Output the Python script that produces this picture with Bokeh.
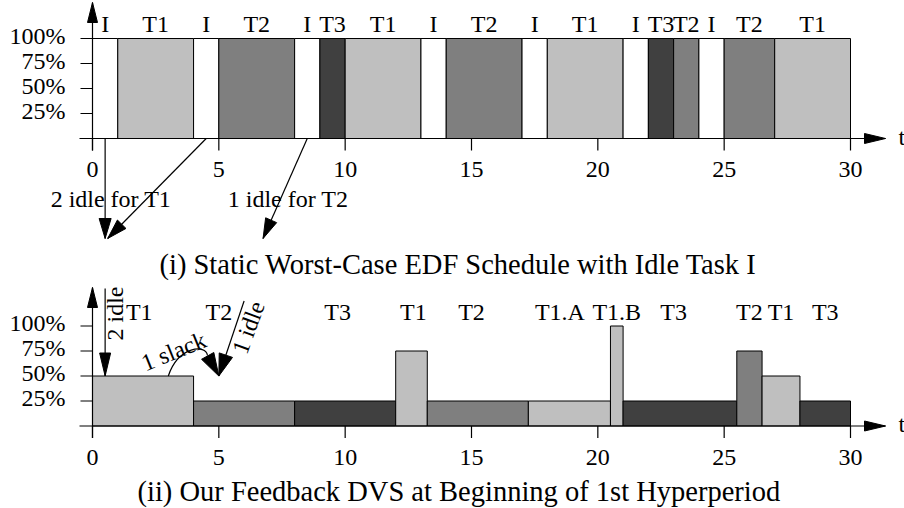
import math
from bokeh.plotting import figure
from bokeh.layouts import column
from bokeh.models import Range1d, ColumnDataSource
from bokeh.embed import file_html
from bokeh.resources import INLINE
from bokeh.core.properties import value

# ---------------- data ----------------
top_tasks = ["I", "T1", "I", "T2", "I", "T3", "T1", "I", "T2", "I", "T1", "I", "T3", "T2", "I", "T2", "T1"]
top_starts = [0, 1, 4, 5, 8, 9, 10, 13, 14, 17, 18, 21, 22, 23, 24, 25, 27]
top_ends = [1, 4, 5, 8, 9, 10, 13, 14, 17, 18, 21, 22, 23, 24, 25, 27, 30]
top_speed = [100, 100, 100, 100, 100, 100, 100, 100, 100, 100, 100, 100, 100, 100, 100, 100, 100]

bot_tasks = ["T1", "T2", "T3", "T1", "T2", "T1", "T1", "T3", "T2", "T1", "T3"]
bot_labels = ["T1", "T2", "T3", "T1", "T2", "T1.A", "T1.B", "T3", "T2", "T1", "T3"]
bot_starts = [0, 4, 8, 12, 13.25, 17.25, 20.5, 21, 25.5, 26.5, 28]
bot_ends = [4, 8, 12, 13.25, 17.25, 20.5, 21, 25.5, 26.5, 28, 30]
bot_speed = [50, 25, 25, 75, 25, 25, 100, 25, 75, 50, 25]
bot_label_x = [1.85, 5, 9.7, 12.7, 15, 18.5, 20.75, 23, 26, 27.25, 29]

x_ticks = [0, 5, 10, 15, 20, 25, 30]
x_tick_labels = ["0", "5", "10", "15", "20", "25", "30"]
y_ticks = [25, 50, 75, 100]
y_tick_labels = ["25%", "50%", "75%", "100%"]

task_colors = {"I": "#ffffff", "T1": "#bfbfbf", "T2": "#7f7f7f", "T3": "#404040"}

title_top = "(i) Static Worst-Case EDF Schedule with Idle Task I"
title_bot = "(ii) Our Feedback DVS at Beginning of 1st Hyperperiod"

# ---------------- geometry ----------------
W = 904
H_TOP = 284
H_BOT = 508 - H_TOP
PXU = 758.0 / 30.0      # pixels per time unit
X0 = 92.0               # pixel of t = 0
PYU = 1.0               # pixels per percent
FONT = value("Liberation Serif")
FS = "24px"
FS_T = "28.5px"
BF = 9    # baseline correction (px)
MF = 3


def make_fig(h, ybot, ytop):
    p = figure(width=W, height=h,
               x_range=Range1d(-X0 / PXU, (W - X0) / PXU),
               y_range=Range1d(ybot, ytop),
               output_backend="svg", toolbar_location=None,
               x_axis_location=None, y_axis_location=None,
               min_border=0, outline_line_color=None,
               background_fill_color="white", border_fill_color="white")
    p.xgrid.visible = False
    p.ygrid.visible = False
    return p


def head(p, fx, fy, tx, ty, L=20, Wd=11):
    dx = (tx - fx) * PXU
    dy = (ty - fy) * PYU
    n = math.hypot(dx, dy)
    ux, uy = dx / n, dy / n
    bx, by = tx * PXU - ux * L, ty * PYU - uy * L
    nx, ny = -uy, ux
    xs = [tx, (bx + nx * Wd / 2) / PXU, (bx - nx * Wd / 2) / PXU]
    ys = [ty, (by + ny * Wd / 2) / PYU, (by - ny * Wd / 2) / PYU]
    p.patch(xs, ys, fill_color="black", line_color="black", line_width=1)


def arrow(p, fx, fy, tx, ty, L=20, Wd=11):
    p.line([fx, tx], [fy, ty], line_color="black", line_width=1.2)
    head(p, fx, fy, tx, ty, L, Wd)


def axes(p):
    # x axis with arrow
    x_tip = (885 - X0) / PXU
    arrow(p, -13 / PXU, 0, x_tip, 0, L=21, Wd=10)
    p.text(x=[(898 - X0) / PXU], y=[-7 + BF], text=["t"], text_font=FONT,
           text_font_size=FS, text_align="left", text_baseline="alphabetic")
    # x ticks
    p.segment(x0=x_ticks, y0=[0] * len(x_ticks), x1=x_ticks, y1=[-12] * len(x_ticks),
              line_color="black", line_width=1.2)
    p.text(x=x_ticks, y=[-40 + BF] * len(x_ticks), text=x_tick_labels, text_font=FONT,
           text_font_size=FS, text_align="center", text_baseline="alphabetic")
    # y ticks
    p.segment(x0=[-12 / PXU] * len(y_ticks), y0=y_ticks, x1=[0] * len(y_ticks), y1=y_ticks,
              line_color="black", line_width=1.2)
    p.text(x=[-27 / PXU] * len(y_ticks), y=[v + MF for v in y_ticks], text=y_tick_labels,
           text_font=FONT, text_font_size=FS, text_align="right", text_baseline="middle")


# ---------------- top chart ----------------
top = make_fig(H_TOP, 138 - H_TOP, 138)
src_t = ColumnDataSource(dict(left=top_starts, right=top_ends, top=top_speed,
                              bottom=[0] * len(top_starts),
                              color=[task_colors[t] for t in top_tasks],
                              mid=[(a + b) / 2 for a, b in zip(top_starts, top_ends)],
                              lab=top_tasks))
top.quad(left="left", right="right", top="top", bottom="bottom", source=src_t,
         fill_color="color", line_color="black", line_width=1)
top.text(x="mid", y=106 + BF, text="lab", source=src_t, text_font=FONT, text_font_size=FS,
         text_align="center", text_baseline="alphabetic")
axes(top)
arrow(top, 0, -12, 0, 136, L=20, Wd=10)
# idle arrows
arrow(top, 0.5, 0, 0.5, -100, L=20, Wd=12)
arrow(top, 4.5, 0, 0.6, -100, L=20, Wd=12)
arrow(top, 8.5, 0, 6.75, -100, L=20, Wd=12)
top.text(x=[0.73, 7.74], y=[-69 + BF, -69 + BF], text=["2 idle for T1", "1 idle for T2"],
         text_font=FONT, text_font_size=FS, text_align="center", text_baseline="alphabetic")
top.text(x=[14.47], y=[-135 + BF], text=[title_top], text_font=FONT, text_font_size=FS_T,
         text_align="center", text_baseline="alphabetic")

# ---------------- bottom chart ----------------
BASE_B = 425.5 - H_TOP
bot = make_fig(H_BOT, BASE_B - H_BOT, BASE_B)
src_b = ColumnDataSource(dict(left=bot_starts, right=bot_ends, top=bot_speed,
                              bottom=[0] * len(bot_starts),
                              color=[task_colors[t] for t in bot_tasks]))
bot.quad(left="left", right="right", top="top", bottom="bottom", source=src_b,
         fill_color="color", line_color="black", line_width=1)
bot.text(x=bot_label_x, y=[105.5 + BF] * len(bot_labels), text=bot_labels, text_font=FONT,
         text_font_size=FS, text_align="center", text_baseline="alphabetic")
axes(bot)
arrow(bot, 0, -12, 0, 138.5, L=20, Wd=10)
# 2 idle arrow
arrow(bot, 0.5, 137.5, 0.5, 50, L=23, Wd=11)
# 1 idle arrow
arrow(bot, 6.0, 125, 5.0, 50, L=22, Wd=14)
# 1 slack curved arrow
bot.bezier(x0=[3.0], y0=[50], x1=[4.55], y1=[70.5], cx0=[3.4], cy0=[80], cx1=[4.5], cy1=[82],
           line_color="black", line_width=1.2)
head(bot, 4.55, 70.5, 5.0, 50, L=23, Wd=14)
bot.text(x=[0.91], y=[112.5], text=["2 idle"], angle=[math.pi / 2], text_font=FONT,
         text_font_size=FS, text_align="center", text_baseline="middle")
bot.text(x=[3.21], y=[74.5], text=["1 slack"], angle=[math.radians(22)], text_font=FONT,
         text_font_size=FS, text_align="center", text_baseline="middle")
bot.text(x=[6.17], y=[98.5], text=["1 idle"], angle=[math.radians(70)], text_font=FONT,
         text_font_size=FS, text_align="center", text_baseline="middle")
bot.text(x=[14.5], y=[-74.5 + BF], text=[title_bot], text_font=FONT, text_font_size=FS_T,
         text_align="center", text_baseline="alphabetic")

layout = column(top, bot, spacing=0)
open("out.html", "w").write(file_html(layout, INLINE))
